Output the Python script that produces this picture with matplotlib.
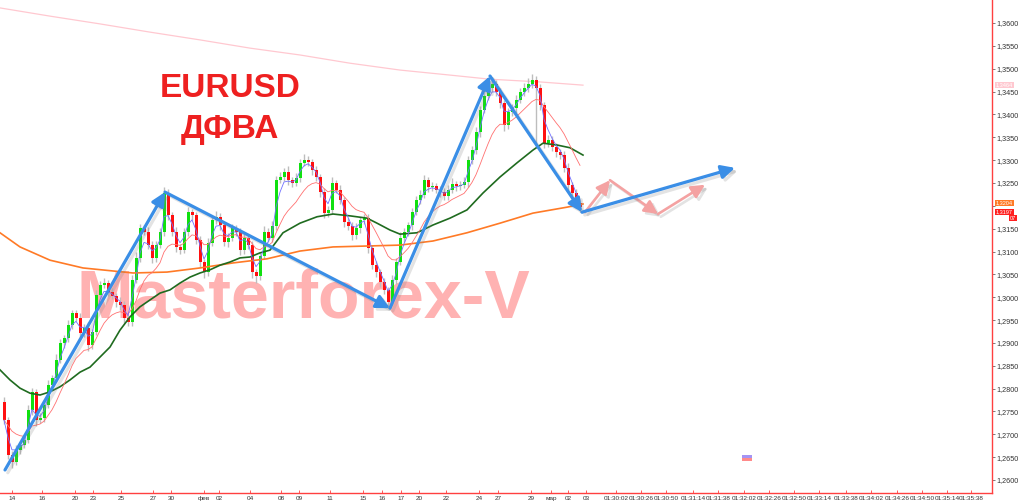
import numpy as np
import pandas as pd
import matplotlib
matplotlib.use("Agg")
import matplotlib.pyplot as plt
import matplotlib.patheffects as pe
from matplotlib.patches import Rectangle
import matplotlib.transforms as mtransforms

# ---------------- data (EURUSD H4 candles) ----------------
first_open = 1.2770
closes = [
    1.2731, 1.2655, 1.2639, 1.2666, 1.2677, 1.2688, 1.2753, 1.2793, 1.2731, 1.2736,
    1.2764, 1.2808, 1.2823, 1.2863, 1.2900, 1.2911, 1.2939, 1.2965, 1.2955, 1.2922,
    1.2933, 1.2895, 1.2924, 1.3005, 1.3027, 1.3031, 1.3011, 1.3003, 1.2990, 1.2983,
    1.2955, 1.2946, 1.3038, 1.3086, 1.3151, 1.3143, 1.3114, 1.3086, 1.3114, 1.3143,
    1.3228, 1.3180, 1.3143, 1.3110, 1.3103, 1.3143, 1.3186, 1.3180, 1.3125, 1.3077,
    1.3055, 1.3119, 1.3169, 1.3176, 1.3158, 1.3121, 1.3130, 1.3151, 1.3143, 1.3103,
    1.3130, 1.3114, 1.3055, 1.3046, 1.3090, 1.3143, 1.3130, 1.3156, 1.3256, 1.3263,
    1.3274, 1.3256, 1.3250, 1.3261, 1.3294, 1.3300, 1.3296, 1.3278, 1.3263, 1.3230,
    1.3184, 1.3191, 1.3250, 1.3235, 1.3213, 1.3165, 1.3156, 1.3136, 1.3151, 1.3169,
    1.3173, 1.3108, 1.3070, 1.3055, 1.3033, 1.3016, 1.2990, 1.3038, 1.3077, 1.3130,
    1.3143, 1.3158, 1.3186, 1.3213, 1.3224, 1.3256, 1.3241, 1.3243, 1.3235, 1.3230,
    1.3221, 1.3235, 1.3248, 1.3243, 1.3246, 1.3252, 1.3300, 1.3322, 1.3361, 1.3410,
    1.3440, 1.3458, 1.3467, 1.3449, 1.3425, 1.3377, 1.3405, 1.3414, 1.3432, 1.3449,
    1.3458, 1.3467, 1.3475, 1.3458, 1.3421, 1.3337, 1.3344, 1.3329, 1.3318, 1.3311,
    1.3283, 1.3246, 1.3228, 1.3206, 1.3197,
]
# wick lengths in pips
upper_wick = [
    12, 6, 8, 10, 6, 9, 12, 8, 7, 10,
    8, 10, 6, 12, 9, 7, 11, 8, 6, 10,
    9, 12, 7, 10, 8, 11, 6, 9, 7, 10,
    8, 6, 10, 12, 9, 7, 11, 8, 10, 9,
    14, 8, 6, 10, 7, 9, 12, 8, 6, 10,
    7, 11, 9, 12, 8, 6, 10, 9, 7, 8,
    10, 6, 8, 7, 9, 12, 8, 10, 9, 11,
    8, 12, 7, 10, 9, 14, 8, 6, 10, 7,
    9, 8, 12, 7, 10, 6, 9, 8, 11, 7,
    10, 8, 6, 9, 7, 8, 6, 10, 9, 12,
    8, 7, 10, 9, 11, 12, 8, 10, 7, 9,
    8, 10, 12, 7, 9, 11, 10, 8, 12, 9,
    10, 12, 14, 8, 9, 7, 10, 8, 11, 9,
    10, 12, 14, 8, 9, 7, 10, 8, 9, 7,
    8, 10, 6, 9, 7,
]
lower_wick = [
    8, 10, 12, 6, 9, 7, 8, 10, 12, 6,
    9, 7, 10, 8, 6, 11, 8, 9, 7, 10,
    8, 12, 9, 7, 10, 6, 9, 8, 11, 10,
    12, 9, 8, 7, 10, 6, 9, 11, 8, 7,
    9, 10, 8, 12, 9, 7, 8, 10, 9, 11,
    12, 8, 7, 9, 10, 8, 11, 7, 9, 10,
    8, 9, 12, 14, 8, 7, 10, 9, 8, 7,
    9, 10, 8, 7, 9, 6, 8, 10, 9, 11,
    10, 8, 9, 7, 10, 12, 9, 11, 8, 10,
    9, 12, 8, 10, 11, 9, 14, 8, 10, 7,
    9, 8, 10, 7, 9, 8, 10, 9, 8, 11,
    9, 8, 7, 10, 9, 8, 10, 9, 8, 10,
    8, 9, 10, 8, 12, 14, 9, 8, 10, 7,
    9, 8, 10, 130, 12, 10, 9, 8, 11, 9,
    10, 12, 9, 11, 10,
]

# slow moving averages (candle index, price)
ma_green_idx = [-1, 1.5, 4, 6.5, 9, 11.5, 14, 16.5, 19, 21.5, 24, 26.5, 29, 31.5, 34, 36.5,
                39, 41.5, 44, 46.5, 49, 51.5, 54, 56.5, 59, 61.5, 64, 66.5, 69.75, 74,
                78.25, 82.25, 86.5, 90.75, 93.25, 96.5, 99, 103.25, 107.25, 111.5, 115.75,
                119.75, 124, 128.25, 132.25, 134.75, 138.25, 141.5, 144.75]
ma_green = [1.2841, 1.2819, 1.2801, 1.2790, 1.2786, 1.2793, 1.2804, 1.2819, 1.2836, 1.2847,
            1.2869, 1.2891, 1.2928, 1.2957, 1.2979, 1.2994, 1.3009, 1.3016, 1.3031, 1.3044,
            1.3053, 1.3060, 1.3070, 1.3077, 1.3086, 1.3088, 1.3097, 1.3103, 1.3141, 1.3162,
            1.3176, 1.3182, 1.3178, 1.3173, 1.3162, 1.3147, 1.3138, 1.3141, 1.3158, 1.3173,
            1.3191, 1.3228, 1.3263, 1.3294, 1.3322, 1.3337, 1.3333, 1.3327, 1.3311]
ma_orange_idx = [-1, 4, 11.5, 19.75, 32.25, 40.75, 49, 57.25, 65.75, 74, 82.25, 90.75,
                 99, 107.25, 115.75, 124, 132.25, 140.75, 144.75]
ma_orange = [1.3141, 1.3110, 1.3081, 1.3064, 1.3053, 1.3055, 1.3064, 1.3075, 1.3084, 1.3101,
             1.3110, 1.3112, 1.3114, 1.3123, 1.3141, 1.3162, 1.3184, 1.3197, 1.3204]
ma_pink_idx = [-1, 11.5, 24, 36.5, 49, 61.5, 74, 86.5, 99, 111.5, 121.5, 134, 144.75]
ma_pink = [1.3633, 1.3615, 1.3598, 1.3580, 1.3563, 1.3545, 1.3530, 1.3512, 1.3497, 1.3486,
           1.3477, 1.3471, 1.3464]

# wave analysis (ДФВА) points
wave_idx = [0.25, 40.25, 96.5, 121.5, 144.5, 182.75]
wave_price = [1.2622, 1.3230, 1.2976, 1.3484, 1.3186, 1.3283]
alt_idx = [145.25, 151.5, 163.5, 175.25]
alt_price = [1.3186, 1.3256, 1.3182, 1.3246]

# x-axis labels
tick_labels = ["14", "16", "20", "23", "25", "27", "30", "фев", "02", "04", "08", "09", "11",
               "15", "16", "17", "20", "22", "24", "27", "29", "мар", "02", "03",
               "01:30:02", "01:30:26", "01:30:50", "01:31:14", "01:31:38", "01:32:02",
               "01:32:26", "01:32:50", "01:33:14", "01:33:38", "01:34:02", "01:34:26",
               "01:34:50", "01:35:14", "01:35:38"]
tick_pos = [2, 9.5, 17.75, 22.25, 29.25, 37.25, 41.75, 50, 53.75, 61.5, 69.25, 73.75, 81.5,
            89.75, 94.5, 99.25, 103.75, 110.5, 118.75, 123.5, 131.75, 136.75, 141, 145.5,
            153, 159.25, 165.5, 172.25, 178.5, 185, 191.25, 197.5, 203.75, 210.5, 216.75,
            223.25, 229.5, 235.75, 241.75]
y_ticks = [1.26 + 0.005 * k for k in range(21)]

# ---------------- drawing ----------------
fig = plt.figure(figsize=(10.24, 5.04), dpi=100)
fig.patch.set_facecolor("white")
ax = fig.add_axes([0, 11 / 504, 992 / 1024, 493 / 504])
ax.set_facecolor("white")
ax.set_xlim(-1, 247)
ax.set_ylim(1.25716, 1.36503)

for s in ("left", "top"):
    ax.spines[s].set_visible(False)
for s in ("right", "bottom"):
    ax.spines[s].set_color("#ff4040")
    ax.spines[s].set_linewidth(1.0)

c = np.array(closes)
o = np.r_[first_open, c[:-1]]
idx = np.arange(len(c))
hi = np.maximum(o, c) + np.array(upper_wick) * 1e-4
lo = np.minimum(o, c) - np.array(lower_wick) * 1e-4
body_bot = np.minimum(o, c)
body_h = np.maximum(np.abs(c - o), 0.00015)
colors = np.where(c >= o, "#10e010", "#ff1010")

ax.vlines(idx, lo, hi, color="#bdbdbd", lw=1.0, zorder=3)
ax.bar(idx, body_h, bottom=body_bot, width=0.75, color=colors, linewidth=0, zorder=4)

# moving averages
ser = pd.Series(c)
fast = ser.ewm(span=3, adjust=False).mean()
slow = ser.ewm(span=12, adjust=False).mean()
ax.plot(ma_pink_idx, ma_pink, color="#ffc8d0", lw=0.9, zorder=2)
ax.plot(ma_orange_idx, ma_orange, color="#ff7a26", lw=1.2, zorder=5)
ax.plot(ma_green_idx, ma_green, color="#1f6b1f", lw=1.2, zorder=5)
ax.plot(idx, slow, color="#ff7070", lw=0.6, zorder=5)
ax.plot(idx, fast, color="#6f6fff", lw=0.6, zorder=5)

# watermark and title
ax.text(303 / 992, 0.355, "Masterforex-V", transform=ax.transAxes, ha="center",
        va="baseline", fontsize=49, fontweight="bold", family="Liberation Sans",
        color="#ffb2b2", zorder=1)
ax.text(230 / 992, 0.803, "EURUSD", transform=ax.transAxes, ha="center", va="baseline",
        fontsize=24, fontweight="bold", family="Liberation Sans", color="#ee2020", zorder=6)
ax.text(230 / 992, 0.720, "ДФВА", transform=ax.transAxes, ha="center", va="baseline",
        fontsize=24, fontweight="bold", family="Liberation Sans", color="#ee2020", zorder=6)

# wave arrows
shadow = [pe.SimpleLineShadow(offset=(2, -2), shadow_color="#808080", alpha=0.22),
          pe.Normal()]
for k in range(len(wave_idx) - 1):
    an = ax.annotate("", xy=(wave_idx[k + 1], wave_price[k + 1]),
                     xytext=(wave_idx[k], wave_price[k]),
                     arrowprops=dict(arrowstyle="-|>,head_length=0.8,head_width=0.4",
                                     color="#3a8ee6", lw=2.3, mutation_scale=10,
                                     shrinkA=0, shrinkB=0), zorder=8)
    an.arrow_patch.set_path_effects(shadow)
for k in range(len(alt_idx) - 1):
    an = ax.annotate("", xy=(alt_idx[k + 1], alt_price[k + 1]),
                     xytext=(alt_idx[k], alt_price[k]),
                     arrowprops=dict(arrowstyle="-|>,head_length=0.8,head_width=0.4",
                                     color="#f4a2a2", lw=1.9, mutation_scale=10,
                                     shrinkA=0, shrinkB=0), zorder=7)
    an.arrow_patch.set_path_effects(shadow)

# axes ticks (the 1,3200 label is hidden behind the price markers)
ax.yaxis.tick_right()
ax.set_yticks(y_ticks)
ax.set_yticklabels(["" if abs(v - 1.32) < 1e-9 else f"{v:.4f}".replace(".", ",")
                    for v in y_ticks])
ax.tick_params(axis="y", labelsize=5.2, labelcolor="#333333", color="#666666",
               length=2, width=0.6, pad=1.5)
ax.set_xticks(tick_pos)
ax.set_xticklabels(tick_labels)
ax.tick_params(axis="x", labelsize=4.6, labelcolor="#333333", color="#ff4040",
               direction="in", length=2, width=0.6, pad=2)
for lab in ax.get_xticklabels() + ax.get_yticklabels():
    lab.set_family("Liberation Sans")

# price labels on the right scale
tr = mtransforms.blended_transform_factory(ax.transAxes, ax.transData)
lab_kw = dict(transform=tr, ha="left", va="center", fontsize=4.0, color="white",
              family="Liberation Sans", clip_on=False, zorder=9)
ax.text(1.004, ma_pink[-1], f"{ma_pink[-1]:.4f}".replace(".", ","),
        bbox=dict(boxstyle="square,pad=0.1", fc="#ffc8d0", ec="none"), **lab_kw)
ax.text(1.004, ma_orange[-1] + 0.0002, f"{ma_orange[-1]:.4f}".replace(".", ","),
        bbox=dict(boxstyle="square,pad=0.1", fc="#ff7a26", ec="none"), **lab_kw)
ax.text(1.004, closes[-1] - 0.0011, f"{closes[-1]:.4f}".replace(".", ","),
        bbox=dict(boxstyle="square,pad=0.1", fc="#ff2020", ec="none"), **lab_kw)
ax.text(1.018, closes[-1] - 0.0024, "07",
        bbox=dict(boxstyle="square,pad=0.1", fc="#ff2020", ec="none"), **lab_kw)

# small marker box near bottom
fig.add_artist(Rectangle((742 / 1024, 46 / 504), 10 / 1024, 3 / 504,
                         transform=fig.transFigure, fc="#a494f4", ec="none"))
fig.add_artist(Rectangle((742 / 1024, 43 / 504), 10 / 1024, 3 / 504,
                         transform=fig.transFigure, fc="#ff8a8a", ec="none"))

fig.savefig("out.png", dpi=100, facecolor="white")
